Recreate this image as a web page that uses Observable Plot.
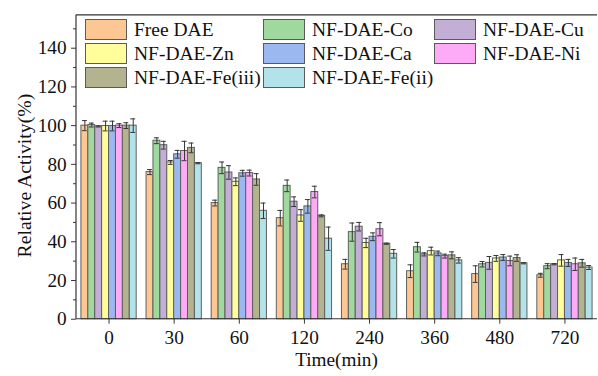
<!DOCTYPE html>
<html><head><meta charset="utf-8">
<script src="https://cdn.jsdelivr.net/npm/d3@7"></script>
<script src="https://cdn.jsdelivr.net/npm/@observablehq/plot@0.6"></script>
<style>
body{margin:0;background:#fff;}
#wrap{position:relative;width:598px;height:376px;overflow:hidden;font-family:"Liberation Serif","Times New Roman",serif;}
#legend{position:absolute;left:0;top:0;}
.item{position:absolute;display:flex;align-items:center;font-size:19.5px;color:#111;white-space:nowrap;height:21px;}
.sw{width:42px;height:21px;border:1px solid #5a5a5a;box-sizing:border-box;margin-right:7px;}
#chart svg, #chart svg text{font-family:"Liberation Serif","Times New Roman",serif !important;}
</style></head>
<body><div id="wrap"><div id="chart"></div><div id="legend"></div></div>
<script>
const groups = ["0","30","60","120","240","360","480","720"];
const series = ["Free DAE","NF-DAE-Co","NF-DAE-Cu","NF-DAE-Zn","NF-DAE-Ca","NF-DAE-Ni","NF-DAE-Fe(iii)","NF-DAE-Fe(ii)"];
const colors = ["#fdc794","#a0d99e","#c3afd6","#fffe9a","#9bb9f0","#fdaaf7","#b3b48f","#b3e3ea"];

const freeDAE  = [100, 76.0, 60.0, 52.2, 28.4, 24.8, 23.3, 22.7];
const dAECo    = [100.3, 92.2, 78.2, 68.9, 45.0, 37.2, 28.4, 27.4];
const dAECu    = [99.6, 89.9, 75.8, 60.7, 47.8, 33.5, 29.1, 28.4];
const dAEZn    = [99.8, 81.0, 71.0, 53.6, 39.4, 35.2, 31.4, 30.4];
const dAECa    = [99.8, 85.2, 75.4, 58.3, 42.6, 34.0, 31.9, 29.1];
const dAENi    = [100, 86.9, 75.5, 65.7, 46.5, 32.6, 30.1, 28.4];
const dAEFe3   = [100, 88.5, 72.2, 53.4, 39.0, 33.0, 31.6, 28.9];
const dAEFe2   = [100, 80.6, 56.0, 41.6, 33.8, 30.4, 28.9, 26.7];

const errFree  = [2.6, 1.3, 1.5, 4, 2.5, 3.3, 4.3, 1];
const errCo    = [1, 1.5, 3, 3, 4.7, 2.5, 1.4, 1.3];
const errCu    = [0.3, 2, 3.5, 2.5, 2.2, 0.8, 3.3, 0.3];
const errZn    = [2.5, 1, 2, 3, 2.4, 2, 1.5, 3];
const errCa    = [2.5, 2, 1.5, 3.5, 2, 1.2, 1.5, 1.8];
const errNi    = [1, 5, 1.5, 3, 3.4, 1, 2.5, 3.2];
const errFe3   = [1.5, 2.5, 3, 0.5, 0.3, 1.8, 1.7, 2];
const errFe2   = [3.5, 0.3, 4, 6, 2.2, 1.4, 0.3, 1];

const yMajor = [0,20,40,60,80,100,120,140];
const yMinor = [10,30,50,70,90,110,130,150];
const yTitle = "Relative Activity(%)";
const xTitle = "Time(min)";

const allValues = [freeDAE,dAECo,dAECu,dAEZn,dAECa,dAENi,dAEFe3,dAEFe2];
const allErrors = [errFree,errCo,errCu,errZn,errCa,errNi,errFe3,errFe2];

const rows = [];
groups.forEach((g,i)=>series.forEach((s,j)=>rows.push({group:g, series:s, value:allValues[j][i], err:allErrors[j][i]})));

const ink = "#333";
const font = "'Liberation Serif', 'Times New Roman', serif";
const plot = Plot.plot({
  width: 606, height: 376,
  marginLeft: 77, marginRight: 1, marginTop: 15, marginBottom: 53,
  style: {fontFamily: font, fontSize: "19.5px", color: "#111", background: "#fff"},
  fx: {domain: groups, padding: 0, axis: null},
  x: {domain: series, paddingInner: 0, paddingOuter: 0.714, axis: null},
  y: {domain: [0, 157]},
  color: {domain: series, range: colors},
  marks: [
    Plot.barY(rows, {fx: "group", x: "series", y: "value", fill: "series", stroke: "#5e5e5e", strokeWidth: 1}),
    Plot.ruleX(rows, {fx: "group", x: "series", y1: d => d.value - d.err, y2: d => d.value + d.err, stroke: ink, strokeWidth: 1}),
    Plot.tickY(rows, {fx: "group", x: "series", y: d => d.value + d.err, stroke: ink, strokeWidth: 1, insetLeft: 1, insetRight: 1}),
    Plot.tickY(rows, {fx: "group", x: "series", y: d => d.value - d.err, stroke: ink, strokeWidth: 1, insetLeft: 1, insetRight: 1}),
    Plot.axisY({ticks: yMajor, tickSize: 5, tickPadding: 5, stroke: ink, label: null}),
    Plot.axisY({ticks: yMinor, tickSize: 3, stroke: ink, text: null, label: null}),
    Plot.axisFx({anchor: "bottom", tickSize: 5, tickPadding: 6, stroke: ink, label: null})
  ]
});
document.getElementById("chart").appendChild(plot);

// frame lines from the plot's own scales
const ys = plot.scale("y"), fxs = plot.scale("fx");
const y0 = ys.apply(0), yT = ys.apply(157);
const xL = fxs.range[0], xR = fxs.range[1];
const svg = d3.select(plot.tagName.toLowerCase() === "svg" ? plot : plot.querySelector("svg"));
svg.selectAll("text").attr("font-family", font);
const fr = svg.append("g").attr("stroke", ink).attr("stroke-width", 1.2);
fr.append("line").attr("x1", xL).attr("x2", xL).attr("y1", y0).attr("y2", yT);
fr.append("line").attr("x1", xL).attr("x2", xR).attr("y1", y0).attr("y2", y0);
fr.append("line").attr("x1", xL).attr("x2", xR).attr("y1", yT).attr("y2", yT);

// axis titles
svg.append("text")
  .attr("transform", `translate(${xL - 53},${(y0 + yT) / 2 + 9}) rotate(-90)`)
  .attr("text-anchor", "middle").attr("dominant-baseline", "central")
  .attr("font-family", font).attr("font-size", 20).attr("fill", "#111")
  .text(yTitle);
svg.append("text")
  .attr("x", (xL + xR) / 2).attr("y", y0 + 41.5)
  .attr("text-anchor", "middle").attr("dominant-baseline", "central")
  .attr("font-family", font).attr("font-size", 19.5).attr("fill", "#111")
  .text(xTitle);

// legend (inside the frame, top-left)
const colLeft = [85, 263, 434];
const rowTop = [19, 43, 67];
const leg = document.getElementById("legend");
series.forEach((s,i)=>{
  const it = document.createElement("div");
  it.className = "item";
  it.style.left = colLeft[i % 3] + "px";
  it.style.top = rowTop[Math.floor(i / 3)] + "px";
  it.innerHTML = `<div class="sw" style="background:${colors[i]}"></div><span>${s}</span>`;
  leg.appendChild(it);
});
</script></body></html>
